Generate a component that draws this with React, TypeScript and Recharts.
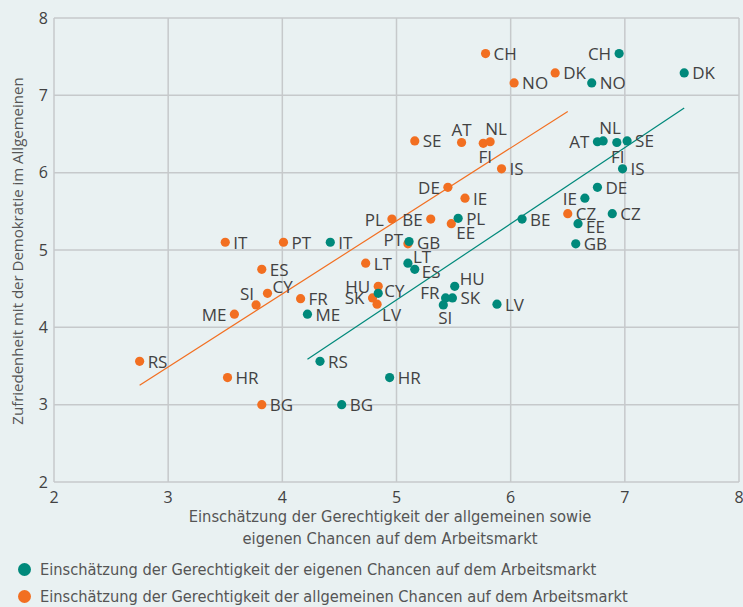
import React from "react";
import {
  ScatterChart,
  Scatter,
  XAxis,
  YAxis,
  CartesianGrid,
  ReferenceLine,
} from "recharts";

// Eigene Chancen (teal)
const ownCountries = ["CH","NO","DK","AT","NL","FI","SE","IS","DE","IE","CZ","EE","GB","BE","PL","PT","IT","LT","ES","HU","CY","FR","SK","SI","LV","ME","RS","HR","BG"];
const ownX = [6.95,6.71,7.52,6.76,6.81,6.93,7.02,6.98,6.76,6.65,6.89,6.59,6.57,6.10,5.54,5.11,4.42,5.10,5.16,5.51,4.84,5.43,5.49,5.41,5.88,4.22,4.33,4.94,4.52];
const ownY = [7.54,7.16,7.29,6.40,6.41,6.39,6.41,6.05,5.81,5.67,5.47,5.34,5.08,5.40,5.41,5.11,5.10,4.83,4.75,4.53,4.44,4.38,4.38,4.29,4.30,4.17,3.56,3.35,3.00];

// Allgemeine Chancen (orange)
const genCountries = ["CH","NO","DK","SE","AT","FI","NL","IS","DE","IE","CZ","BE","EE","PL","GB","PT","IT","LT","ES","HU","SK","LV","CY","SI","FR","ME","RS","HR","BG"];
const genX = [5.78,6.03,6.39,5.16,5.57,5.76,5.82,5.92,5.45,5.60,6.50,5.30,5.48,4.96,5.10,4.01,3.50,4.73,3.82,4.84,4.79,4.83,3.87,3.77,4.16,3.58,2.75,3.52,3.82];
const genY = [7.54,7.16,7.29,6.41,6.39,6.38,6.40,6.05,5.81,5.67,5.47,5.40,5.34,5.40,5.08,5.10,5.10,4.83,4.75,4.53,4.38,4.30,4.44,4.29,4.37,4.17,3.56,3.35,3.00];

const axisTicks = [2, 3, 4, 5, 6, 7, 8];

const ownName = "Einschätzung der Gerechtigkeit der eigenen Chancen auf dem Arbeitsmarkt";
const genName = "Einschätzung der Gerechtigkeit der allgemeinen Chancen auf dem Arbeitsmarkt";
const xTitle1 = "Einschätzung der Gerechtigkeit der allgemeinen sowie";
const xTitle2 = "eigenen Chancen auf dem Arbeitsmarkt";
const yTitle = "Zufriedenheit mit der Demokratie im Allgemeinen";

const TEAL = "#00897b";
const ORANGE = "#f26f21";
const TEXT = "#424242";
const BG = "#e9f1f2";
const GRID = "#c6c9cb";

type Place = { dx: number; dy: number; anchor: "start" | "end" | "middle" };
const R: Place = { dx: 8, dy: 0, anchor: "start" };
const L: Place = { dx: -8, dy: 0, anchor: "end" };

const ownPlace: Record<string, Place> = {
  CH: L, AT: L, IE: L,
  NL: { dx: 7, dy: -13, anchor: "middle" },
  FI: { dx: 1, dy: 14, anchor: "middle" },
  EE: { dx: 8, dy: 3, anchor: "start" },
  PT: { dx: -6, dy: -2, anchor: "end" },
  LT: { dx: 5, dy: -7, anchor: "start" },
  ES: { dx: 7, dy: 2, anchor: "start" },
  CY: { dx: 6, dy: -3, anchor: "start" },
  HU: { dx: 5, dy: -8, anchor: "start" },
  FR: { dx: -6, dy: -5, anchor: "end" },
  SI: { dx: 2, dy: 13, anchor: "middle" },
};
const genPlace: Record<string, Place> = {
  DE: L, BE: L, PL: L, HU: L, SK: L, ME: L,
  AT: { dx: 0, dy: -13, anchor: "middle" },
  NL: { dx: 6, dy: -13, anchor: "middle" },
  FI: { dx: 2, dy: 13, anchor: "middle" },
  EE: { dx: 5, dy: 9, anchor: "start" },
  GB: { dx: 9, dy: -1, anchor: "start" },
  LV: { dx: 5, dy: 10, anchor: "start" },
  CY: { dx: 5, dy: -7, anchor: "start" },
  SI: { dx: -2, dy: -11, anchor: "end" },
};

const build = (names: string[], xs: number[], ys: number[]) =>
  names.map((name, i) => ({ name, x: xs[i], y: ys[i] }));

const ownData = build(ownCountries, ownX, ownY);
const genData = build(genCountries, genX, genY);

const fit = (xs: number[], ys: number[]) => {
  const n = xs.length;
  const mx = xs.reduce((a, b) => a + b, 0) / n;
  const my = ys.reduce((a, b) => a + b, 0) / n;
  let sxy = 0, sxx = 0;
  for (let i = 0; i < n; i++) {
    sxy += (xs[i] - mx) * (ys[i] - my);
    sxx += (xs[i] - mx) * (xs[i] - mx);
  }
  const b = sxy / sxx;
  const a = my - b * mx;
  const x0 = Math.min(...xs);
  const x1 = Math.max(...xs);
  return [
    { x: x0, y: a + b * x0 },
    { x: x1, y: a + b * x1 },
  ];
};

const ownFit = fit(ownX, ownY);
const genFit = fit(genX, genY);

const makeShape = (color: string, places: Record<string, Place>) => (props: any) => {
  const { cx, cy, payload } = props;
  const p = places[payload.name] || R;
  return (
    <g>
      <circle cx={cx} cy={cy} r={4.6} fill={color} />
      <text
        x={cx + p.dx}
        y={cy + p.dy}
        textAnchor={p.anchor}
        dominantBaseline="central"
        fontFamily="'Open Sans', sans-serif"
        fontSize={17}
        fill={TEXT}
      >
        {payload.name}
      </text>
    </g>
  );
};

const narrow = "'Liberation Sans Narrow', 'DejaVu Sans Condensed', sans-serif";

export default function App() {
  return (
    <div style={{ position: "absolute", left: 0, top: 0, width: 743, height: 607, background: BG, overflow: "hidden" }}>
      <ScatterChart width={743} height={607} margin={{ top: 18, right: 4, bottom: 95, left: 0 }}>
        <CartesianGrid stroke={GRID} strokeWidth={1.5} horizontal vertical />
        <XAxis
          type="number"
          dataKey="x"
          domain={[2, 8]}
          ticks={axisTicks}
          axisLine={false}
          tickLine={false}
          height={30}
          tickMargin={4}
          tick={{ fill: TEXT, fontSize: 16, fontFamily: "'Open Sans', sans-serif" }}
        />
        <YAxis
          type="number"
          dataKey="y"
          domain={[2, 8]}
          ticks={axisTicks}
          axisLine={false}
          tickLine={false}
          width={54}
          tickMargin={0}
          tick={{ fill: TEXT, fontSize: 16, fontFamily: "'Open Sans', sans-serif" }}
        />
        <ReferenceLine segment={genFit} stroke={ORANGE} strokeWidth={1.2} ifOverflow="visible" />
        <ReferenceLine segment={ownFit} stroke={TEAL} strokeWidth={1.2} ifOverflow="visible" />
        <Scatter name={genName} data={genData} fill={ORANGE} isAnimationActive={false} shape={makeShape(ORANGE, genPlace)} />
        <Scatter name={ownName} data={ownData} fill={TEAL} isAnimationActive={false} shape={makeShape(TEAL, ownPlace)} />
      </ScatterChart>
      <div
        style={{
          position: "absolute",
          left: 17,
          top: 251,
          transform: "translate(-50%, -50%) rotate(-90deg)",
          whiteSpace: "nowrap",
          fontFamily: "'Open Sans', sans-serif",
          fontSize: 15,
          color: "#555",
        }}
      >
        {yTitle}
      </div>
      <div
        style={{
          position: "absolute",
          left: 90,
          width: 600,
          top: 506,
          textAlign: "center",
          fontFamily: narrow,
          fontSize: 16.4,
          lineHeight: "22px",
          color: "#555",
        }}
      >
        <div>{xTitle1}</div>
        <div>{xTitle2}</div>
      </div>
      {[
        { color: TEAL, label: ownName, y: 569 },
        { color: ORANGE, label: genName, y: 596 },
      ].map((item) => (
        <div key={item.label} style={{ position: "absolute", left: 18, top: item.y - 12, height: 24, display: "flex", alignItems: "center" }}>
          <span style={{ width: 13, height: 13, borderRadius: "50%", background: item.color, display: "inline-block", marginRight: 9 }} />
          <span style={{ fontFamily: narrow, fontSize: 16.3, color: "#555", whiteSpace: "nowrap" }}>{item.label}</span>
        </div>
      ))}
    </div>
  );
}
